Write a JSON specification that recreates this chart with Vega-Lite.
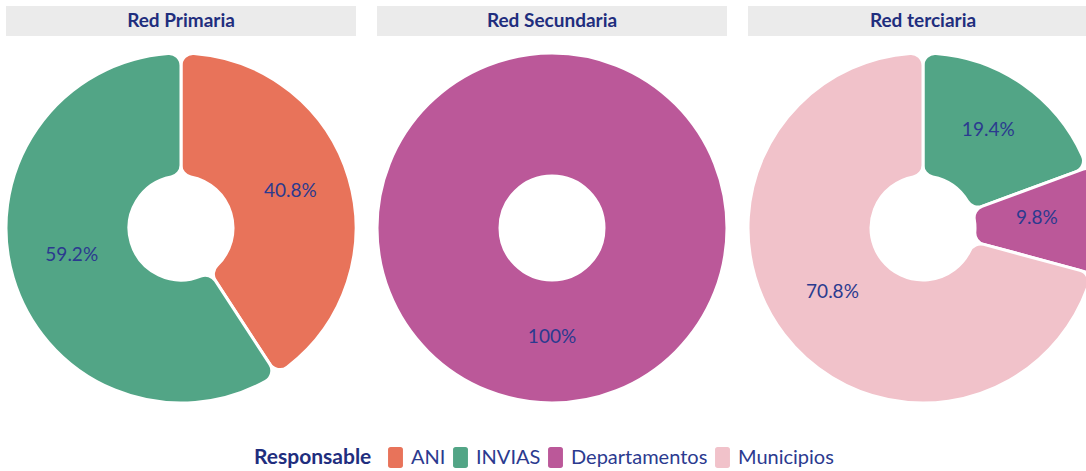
{
  "$schema": "https://vega.github.io/schema/vega-lite/v6.json",
  "padding": {"left": 0, "top": 6, "right": 0, "bottom": 0},
  "background": "white",
  "datasets": {
    "d": [
      {"Red": "Red Primaria", "Responsable": "ANI", "orden": 1, "valor": 0.408},
      {"Red": "Red Primaria", "Responsable": "INVIAS", "orden": 2, "valor": 0.592},
      {"Red": "Red Secundaria", "Responsable": "Departamentos", "orden": 3, "valor": 1.0},
      {"Red": "Red terciaria", "Responsable": "INVIAS", "orden": 2, "valor": 0.194},
      {"Red": "Red terciaria", "Responsable": "Departamentos", "orden": 3, "valor": 0.098},
      {"Red": "Red terciaria", "Responsable": "Municipios", "orden": 4, "valor": 0.708}
    ]
  },
  "data": {"name": "d"},
  "config": {
    "view": {"stroke": null},
    "font": "Lato",
    "legend": {
      "orient": "none",
      "legendX": 248,
      "legendY": 441,
      "direction": "horizontal",
      "titleOrient": "left",
      "titleFontSize": 21,
      "titleFont": "Lato",
      "titleFontWeight": "bold",
      "titleColor": "#1F2E7E",
      "titlePadding": 13,
      "labelFontSize": 20,
      "labelFont": "Lato",
      "labelColor": "#2B3A8F",
      "labelOffset": 5,
      "symbolType": "M -0.45 -1 L 0.45 -1 Q 0.71 -1 0.71 -0.74 L 0.71 0.74 Q 0.71 1 0.45 1 L -0.45 1 Q -0.71 1 -0.71 0.74 L -0.71 -0.74 Q -0.71 -1 -0.45 -1 Z",
      "symbolSize": 441,
      "symbolStrokeWidth": 0,
      "columnPadding": 4
    }
  },
  "spacing": 11,
  "vconcat": [
    {
      "transform": [{"aggregate": [{"op": "count", "as": "n"}], "groupby": ["Red"]}],
      "facet": {"column": {"field": "Red", "type": "nominal", "sort": ["Red Primaria", "Red Secundaria", "Red terciaria"], "header": null}},
      "spacing": 21,
      "bounds": "flush",
      "spec": {
        "width": 350,
        "height": 30,
        "view": {"fill": "#EBEBEB", "stroke": null},
        "mark": {"type": "text", "fontWeight": "bold", "fontSize": 19, "font": "Lato", "color": "#1F2E7E", "baseline": "middle", "align": "center"},
        "encoding": {"text": {"field": "Red", "type": "nominal"}}
      }
    },
    {
      "facet": {"column": {"field": "Red", "type": "nominal", "sort": ["Red Primaria", "Red Secundaria", "Red terciaria"], "header": null}},
      "spacing": 21,
      "bounds": "flush",
      "spec": {
        "width": 350,
        "height": 350,
        "encoding": {
          "theta": {"field": "valor", "type": "quantitative", "stack": true},
          "order": {"field": "orden", "type": "quantitative"}
        },
        "layer": [
          {
            "mark": {
              "type": "arc",
              "innerRadius": 52,
              "outerRadius": 175,
              "cornerRadius": 12,
              "stroke": "white",
              "strokeWidth": 3,
              "radiusOffset": {"expr": "datum.Responsable == 'Departamentos' && datum.valor < 1 ? 8 : 0"},
              "radius2Offset": {"expr": "datum.Responsable == 'Departamentos' && datum.valor < 1 ? 5 : 0"}
            },
            "encoding": {
              "color": {
                "field": "Responsable",
                "type": "nominal",
                "title": "Responsable",
                "scale": {
                  "domain": ["ANI", "INVIAS", "Departamentos", "Municipios"],
                  "range": ["#E8735A", "#52A586", "#BB5899", "#F1C2CA"]
                }
              }
            }
          },
          {
            "mark": {"type": "text", "radius": 114, "dy": -5, "fontSize": 19, "color": "#2B3A8F", "font": "Lato"},
            "encoding": {"text": {"field": "valor", "type": "quantitative", "format": ".1~%"}}
          }
        ]
      }
    }
  ]
}
